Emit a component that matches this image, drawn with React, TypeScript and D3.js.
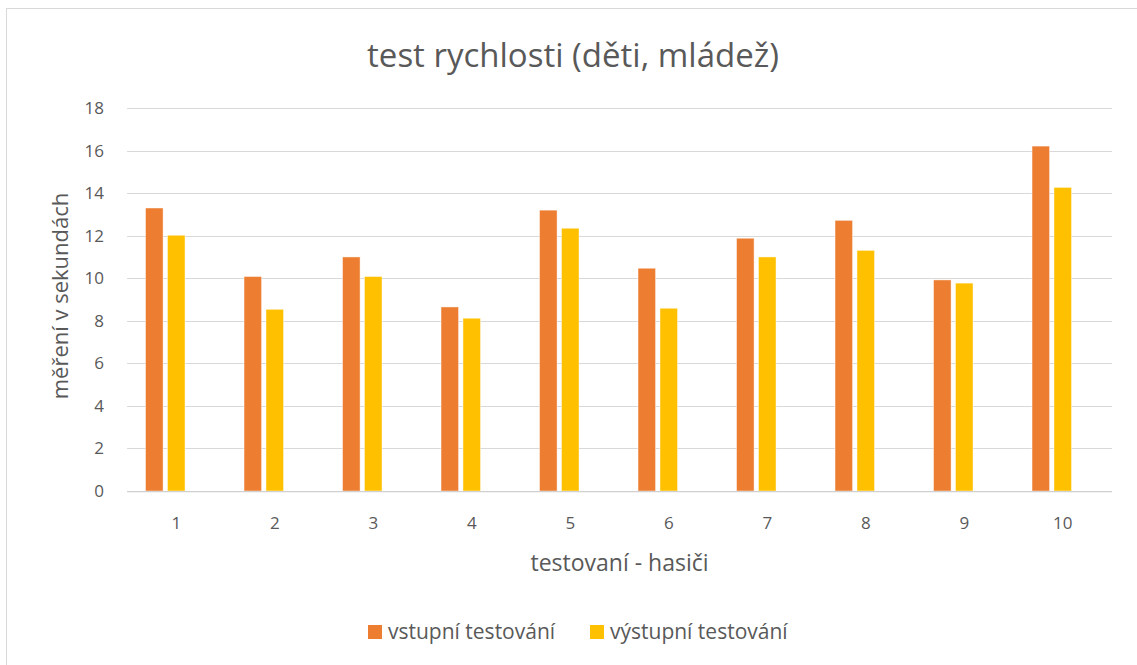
import { useEffect, useRef } from 'react';
import * as d3 from 'd3';

// Bar chart: speed test, entry vs. exit measurement for 10 tested firefighters.

const CATEGORIES = ['1', '2', '3', '4', '5', '6', '7', '8', '9', '10'];
const VSTUPNI = [13.3, 10.08, 11.0, 8.65, 13.2, 10.47, 11.88, 12.72, 9.92, 16.21];
const VYSTUPNI = [12.02, 8.54, 10.08, 8.12, 12.35, 8.59, 11.0, 11.31, 9.77, 14.27];
// Excel left a third, empty series slot in each group, so the bars sit left of the tick
const SERIES_SLOTS = ['vstupní testování', 'výstupní testování', 'empty'];
const Y_TICKS = [0, 2, 4, 6, 8, 10, 12, 14, 16, 18];

const ORANGE = '#ED7D31';
const YELLOW = '#FFC000';
const TEXT = '#595959';
const GRID = '#D9D9D9';
const FONT = '"Open Sans", "Noto Sans", sans-serif';

const W = 1137;
const H = 665;
const M = { left: 127, right: 1112, top: 108, bottom: 491 };

export default function App() {
  const svgRef = useRef<SVGSVGElement>(null);

  useEffect(() => {
    const svg = d3.select(svgRef.current);
    svg.selectAll('*').remove();

    const x = d3.scaleBand<string>()
      .domain(CATEGORIES)
      .range([M.left, M.right])
      .paddingInner(0.376)
      .paddingOuter(0.188);

    const xInner = d3.scaleBand<string>()
      .domain(SERIES_SLOTS)
      .range([0, x.bandwidth()])
      .paddingInner(0.2)
      .paddingOuter(0);

    const y = d3.scaleLinear().domain([0, 18]).range([M.bottom, M.top]);

    // chart border (only top/left visible in the crop)
    svg.append('rect')
      .attr('x', 6.5).attr('y', 8.5)
      .attr('width', W + 20).attr('height', H + 20)
      .attr('fill', '#fff')
      .attr('stroke', GRID).attr('stroke-width', 1);

    // gridlines
    svg.append('g')
      .selectAll('line')
      .data(Y_TICKS.slice(1))
      .join('line')
      .attr('x1', M.left).attr('x2', M.right)
      .attr('y1', (d) => Math.round(y(d)) + 0.5).attr('y2', (d) => Math.round(y(d)) + 0.5)
      .attr('stroke', GRID).attr('stroke-width', 1);

    // y tick labels
    svg.append('g')
      .selectAll('text')
      .data(Y_TICKS)
      .join('text')
      .attr('x', 104)
      .attr('y', (d) => y(d))
      .attr('dy', '0.35em')
      .attr('text-anchor', 'end')
      .attr('font-family', FONT).attr('font-size', 17).attr('fill', TEXT)
      .text((d) => d);

    // bars
    const series = [
      { key: SERIES_SLOTS[0], values: VSTUPNI, color: ORANGE },
      { key: SERIES_SLOTS[1], values: VYSTUPNI, color: YELLOW },
    ];
    for (const s of series) {
      svg.append('g')
        .selectAll('rect')
        .data(s.values)
        .join('rect')
        .attr('x', (_, i) => (x(CATEGORIES[i]) ?? 0) + (xInner(s.key) ?? 0))
        .attr('y', (d) => y(d))
        .attr('width', xInner.bandwidth())
        .attr('height', (d) => y(0) - y(d))
        .attr('fill', s.color)
        .attr('stroke', '#fff').attr('stroke-opacity', 0.6).attr('stroke-width', 0.75);
    }

    // x axis line
    svg.append('line')
      .attr('x1', M.left).attr('x2', M.right)
      .attr('y1', y(0) + 0.5).attr('y2', y(0) + 0.5)
      .attr('stroke', '#D0D0D0').attr('stroke-width', 1.25);

    // x tick labels
    svg.append('g')
      .selectAll('text')
      .data(CATEGORIES)
      .join('text')
      .attr('x', (d) => (x(d) ?? 0) + x.bandwidth() / 2)
      .attr('y', 523)
      .attr('dy', '0.35em')
      .attr('text-anchor', 'middle')
      .attr('font-family', FONT).attr('font-size', 17).attr('fill', TEXT)
      .text((d) => d);

    // title
    svg.append('text')
      .attr('x', 573).attr('y', 55)
      .attr('dy', '0.35em')
      .attr('text-anchor', 'middle')
      .attr('font-family', FONT).attr('font-size', 33).attr('fill', TEXT)
      .text('test rychlosti (děti, mládež)');

    // axis titles
    svg.append('text')
      .attr('x', (M.left + M.right) / 2).attr('y', 563)
      .attr('dy', '0.35em')
      .attr('text-anchor', 'middle')
      .attr('font-family', FONT).attr('font-size', 23).attr('fill', TEXT)
      .text('testovaní - hasiči');

    svg.append('text')
      .attr('transform', `translate(60,296) rotate(-90)`)
      .attr('dy', '0.35em')
      .attr('text-anchor', 'middle')
      .attr('font-family', FONT).attr('font-size', 22).attr('fill', TEXT)
      .text('měření v sekundách');

    // legend
    const legendItems = [
      { label: SERIES_SLOTS[0], color: ORANGE, x: 368 },
      { label: SERIES_SLOTS[1], color: YELLOW, x: 590 },
    ];
    const lg = svg.append('g');
    for (const item of legendItems) {
      lg.append('rect')
        .attr('x', item.x).attr('y', 625)
        .attr('width', 14).attr('height', 14)
        .attr('fill', item.color);
      lg.append('text')
        .attr('x', item.x + 20).attr('y', 632)
        .attr('dy', '0.35em')
        .attr('font-family', FONT).attr('font-size', 21).attr('fill', TEXT)
        .text(item.label);
    }
  }, []);

  return (
    <svg
      ref={svgRef}
      width={W}
      height={H}
      style={{ position: 'absolute', left: 0, top: 0, display: 'block' }}
    />
  );
}
